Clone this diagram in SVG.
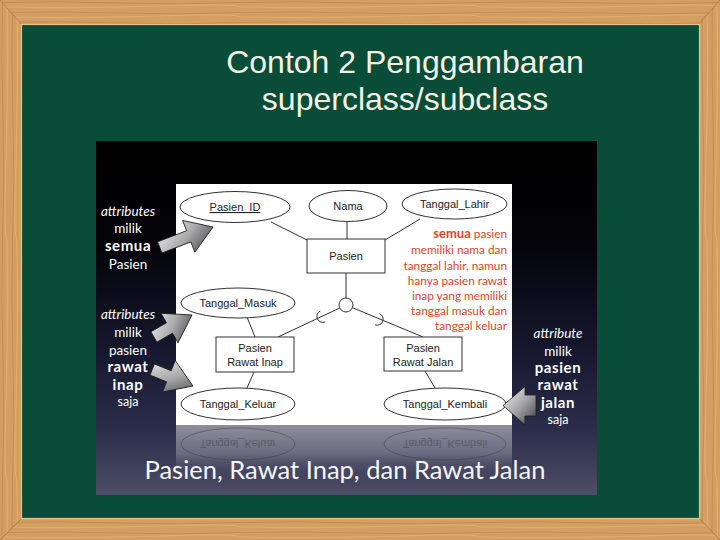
<svg xmlns="http://www.w3.org/2000/svg" width="720" height="540" viewBox="0 0 720 540">
<defs>
  <pattern id="grainH" width="240" height="10" patternUnits="userSpaceOnUse">
    <rect width="240" height="10" fill="#d39e62"/>
    <path d="M0 2.5 Q60 1 120 3 T240 2.5" stroke="#b57a40" stroke-width="1" fill="none" opacity="0.5"/>
    <path d="M0 7 Q80 8.5 160 6 T240 7" stroke="#e6b880" stroke-width="1.2" fill="none" opacity="0.6"/>
  </pattern>
  <pattern id="grainV" width="10" height="240" patternUnits="userSpaceOnUse">
    <rect width="10" height="240" fill="#d39e62"/>
    <path d="M2.5 0 Q1 60 3 120 T2.5 240" stroke="#b57a40" stroke-width="1" fill="none" opacity="0.5"/>
    <path d="M7 0 Q8.5 80 6 160 T7 240" stroke="#e6b880" stroke-width="1.2" fill="none" opacity="0.6"/>
  </pattern>
  <linearGradient id="bg" x1="0" y1="0" x2="0" y2="1">
    <stop offset="0" stop-color="#000000"/>
    <stop offset="0.3" stop-color="#04040a"/>
    <stop offset="0.6" stop-color="#17182f"/>
    <stop offset="0.82" stop-color="#2c2e4b"/>
    <stop offset="1" stop-color="#4c4e66"/>
  </linearGradient>
  <linearGradient id="refl" x1="0" y1="0" x2="0" y2="1">
    <stop offset="0" stop-color="#8e8e9b"/>
    <stop offset="0.55" stop-color="#6a6b7f"/>
    <stop offset="1" stop-color="#4c4e66" stop-opacity="0"/>
  </linearGradient>
  <linearGradient id="ag" x1="0" y1="0" x2="1" y2="1">
    <stop offset="0" stop-color="#f2f2f2"/>
    <stop offset="0.5" stop-color="#a9a9ab"/>
    <stop offset="1" stop-color="#3e3e42"/>
  </linearGradient>
  <polygon id="arrL" points="0,0 -26,-17 -26,-6 -57,-6 -57,6 -26,6 -26,17"/>
  <polygon id="arrS" points="0,0 -26,-17 -26,-6 -44,-6 -44,6 -26,6 -26,17"/>
  <style>
    .title{font-family:"Liberation Sans",Arial,sans-serif;font-size:32px;fill:#f4f2e6;text-anchor:middle}
    .ent{fill:#ffffff;stroke:#333333;stroke-width:1}
    .lbl{font-family:"Liberation Sans",Arial,sans-serif;font-size:11px;fill:#222222;text-anchor:middle}
    .conn line,.conn path{stroke:#333333;stroke-width:1;fill:none}
    .side{font-family:Lato,"Open Sans",sans-serif;font-size:13.5px;fill:#ffffff;text-anchor:middle}
    .side .b{font-weight:bold;font-size:15px;letter-spacing:0.6px}
    .side .i{font-style:italic}
    .side .s{font-size:12.5px}
    .red{font-family:Lato,"Open Sans",sans-serif;font-size:11.8px;fill:#d8472b;text-anchor:end}
    .red .b{font-weight:bold;font-size:13px}
    .arrow{fill:url(#ag);stroke:#1c1c1c;stroke-width:0.8}
    .cap{font-family:Lato,"Open Sans",sans-serif;font-size:25.5px;fill:#f6f6f6;text-anchor:middle}
    .rf{opacity:0.4}
  </style>
</defs>

<!-- wooden frame -->
<g id="frame">
  <polygon points="0,0 720,0 698,25 22,25" fill="url(#grainH)"/>
  <polygon points="0,540 720,540 699,518 22,518" fill="url(#grainH)"/>
  <polygon points="0,0 22,25 22,518 0,540" fill="url(#grainV)"/>
  <polygon points="720,0 698,25 699,518 720,540" fill="url(#grainV)"/>
  <path d="M0 0 L22 25 M720 0 L698 25 M0 540 L22 518 M720 540 L699 518" stroke="#9c6530" stroke-width="1" opacity="0.7"/>
  <rect x="22" y="25" width="677" height="493" fill="#094c37"/>
  <rect x="21.5" y="24.5" width="678" height="494" fill="none" stroke="#e9c486" stroke-width="1.2"/>
</g>

<!-- title -->
<g id="title">
  <text class="title" x="405" y="73">Contoh 2 Penggambaran</text>
  <text class="title" x="405" y="110">superclass/subclass</text>
</g>

<!-- picture background -->
<g id="picture">
  <rect x="96" y="141" width="501" height="354" fill="url(#bg)"/>
  <rect x="176" y="184" width="336" height="241" fill="#ffffff"/>
  <rect x="176" y="425" width="336" height="52" fill="url(#refl)"/>
</g>

<!-- reflection -->
<g id="reflection" class="rf" transform="translate(0,848) scale(1,-1)">
  <ellipse cx="238" cy="404" rx="57" ry="16" fill="none" stroke="#333" stroke-width="1"/>
  <ellipse cx="445" cy="404" rx="61" ry="16" fill="none" stroke="#333" stroke-width="1"/>
  <text class="lbl" x="238" y="408" style="fill:#333">Tanggal_Keluar</text>
  <text class="lbl" x="445" y="408" style="fill:#333">Tanggal_Kembali</text>
</g>

<!-- connectors -->
<g id="connectors" class="conn">
  <line x1="271" y1="222" x2="307" y2="240"/>
  <line x1="347" y1="221" x2="347" y2="239"/>
  <line x1="420" y1="219" x2="385" y2="240"/>
  <line x1="346" y1="273" x2="346" y2="298"/>
  <line x1="339.7" y1="308" x2="278" y2="337"/>
  <line x1="352.5" y1="307.7" x2="423" y2="337"/>
  <path d="M320.2 311 A6 6 0 0 0 325.2 321.9"/>
  <path d="M379.4 313.6 A6 6 0 0 1 375 324.8"/>
  <line x1="247" y1="317" x2="255" y2="337"/>
  <line x1="254" y1="372" x2="247" y2="388"/>
  <line x1="425" y1="371" x2="435" y2="388"/>
</g>

<!-- nodes -->
<g id="n-pasien-id">
  <ellipse class="ent" cx="235" cy="207" rx="55" ry="15.5"/>
  <text class="lbl" x="235" y="211" text-decoration="underline">Pasien_ID</text>
</g>
<g id="n-nama">
  <ellipse class="ent" cx="348" cy="206" rx="39" ry="15.5"/>
  <text class="lbl" x="348" y="210">Nama</text>
</g>
<g id="n-tanggal-lahir">
  <ellipse class="ent" cx="454.5" cy="204" rx="52.5" ry="15"/>
  <text class="lbl" x="454.5" y="208">Tanggal_Lahir</text>
</g>
<g id="n-pasien">
  <rect class="ent" x="307" y="239" width="78" height="34"/>
  <text class="lbl" x="346" y="260">Pasien</text>
</g>
<g id="n-isa">
  <circle class="ent" cx="346" cy="305" r="7"/>
</g>
<g id="n-tanggal-masuk">
  <ellipse class="ent" cx="238" cy="303" rx="57" ry="15"/>
  <text class="lbl" x="238" y="307">Tanggal_Masuk</text>
</g>
<g id="n-rawat-inap">
  <rect class="ent" x="216" y="337" width="78" height="35"/>
  <text class="lbl" x="255" y="352">Pasien</text>
  <text class="lbl" x="255" y="366">Rawat Inap</text>
</g>
<g id="n-rawat-jalan">
  <rect class="ent" x="384" y="337" width="78" height="34"/>
  <text class="lbl" x="423" y="352">Pasien</text>
  <text class="lbl" x="423" y="366">Rawat Jalan</text>
</g>
<g id="n-tanggal-keluar">
  <ellipse class="ent" cx="238" cy="404" rx="57" ry="16"/>
  <text class="lbl" x="238" y="408">Tanggal_Keluar</text>
</g>
<g id="n-tanggal-kembali">
  <ellipse class="ent" cx="445" cy="404" rx="61" ry="16"/>
  <text class="lbl" x="445" y="408">Tanggal_Kembali</text>
</g>

<!-- explanatory red text -->
<g id="note" class="red">
  <text x="507" y="238"><tspan class="b">semua</tspan> pasien</text>
  <text x="507" y="254">memiliki nama dan</text>
  <text x="507" y="269.5">tanggal lahir, namun</text>
  <text x="507" y="284.5">hanya pasien rawat</text>
  <text x="507" y="300">inap yang memiliki</text>
  <text x="507" y="314.5">tanggal masuk dan</text>
  <text x="507" y="330">tanggal keluar</text>
</g>

<!-- side labels -->
<g id="label-semua" class="side">
  <text x="128" y="215.5" class="i">attributes</text>
  <text x="128" y="232.5">milik</text>
  <text x="128" y="251" class="b">semua</text>
  <text x="128" y="268.5">Pasien</text>
</g>
<g id="label-inap" class="side">
  <text x="128" y="318.5" class="i">attributes</text>
  <text x="128" y="336.5">milik</text>
  <text x="128" y="355">pasien</text>
  <text x="128" y="372" class="b">rawat</text>
  <text x="128" y="390" class="b">inap</text>
  <text x="128" y="406" class="s">saja</text>
</g>
<g id="label-jalan" class="side">
  <text x="558" y="337.5" class="i">attribute</text>
  <text x="558" y="356">milik</text>
  <text x="558" y="373" class="b">pasien</text>
  <text x="558" y="390" class="b">rawat</text>
  <text x="558" y="408" class="b">jalan</text>
  <text x="558" y="424" class="s">saja</text>
</g>

<!-- pointer arrows -->
<g id="pointers">
  <use href="#arrL" class="arrow" transform="translate(213,227) rotate(-21)"/>
  <use href="#arrS" class="arrow" transform="translate(192,315) rotate(-30)"/>
  <use href="#arrS" class="arrow" transform="translate(193,386) rotate(22)"/>
  <polygon class="arrow" points="503,405.5 525,386.5 525,395 536,395 536,416 525,416 525,425"/>
</g>

<!-- caption -->
<g id="caption">
  <text class="cap" x="345" y="479">Pasien, Rawat Inap, dan Rawat Jalan</text>
</g>
</svg>
